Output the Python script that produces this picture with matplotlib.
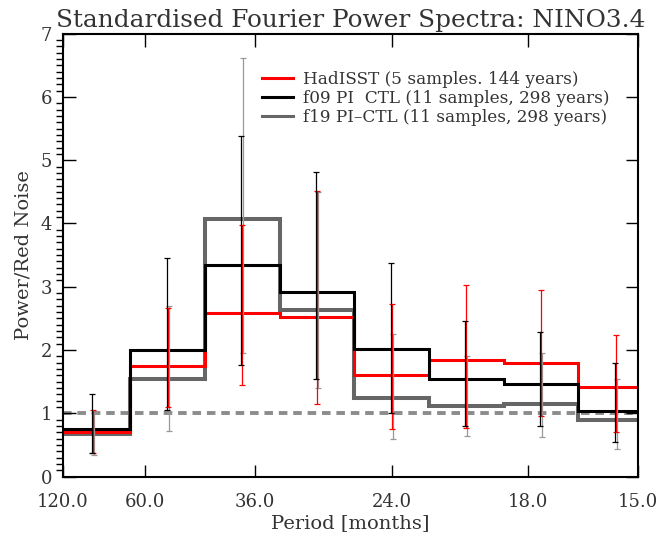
import matplotlib
matplotlib.use("Agg")
import matplotlib.pyplot as plt
from matplotlib.lines import Line2D
import numpy as np

# frequency bins are k / 132 cycles per month (11-year segments)
segment_months = 132
bin_k = [1, 2, 3, 4, 5, 6, 7, 8, 9]

tick_periods = [120, 60, 36, 24, 18, 15]
tick_labels = ["120.0", "60.0", "36.0", "24.0", "18.0", "15.0"]

hadisst = [0.70, 1.75, 2.58, 2.52, 1.60, 1.84, 1.80, 1.42]
hadisst_lo = [0.38, 1.10, 1.44, 1.15, 0.75, 0.77, 0.95, 0.71]
hadisst_hi = [1.06, 2.67, 3.97, 4.52, 2.73, 3.03, 2.95, 2.24]

f09 = [0.76, 2.00, 3.34, 2.92, 2.02, 1.54, 1.47, 1.03]
f09_lo = [0.38, 1.06, 1.77, 1.55, 1.00, 0.80, 0.80, 0.54]
f09_hi = [1.30, 3.46, 5.39, 4.81, 3.37, 2.46, 2.28, 1.79]

f19 = [0.68, 1.55, 4.07, 2.64, 1.24, 1.12, 1.15, 0.89]
f19_lo = [0.34, 0.72, 1.96, 1.40, 0.59, 0.64, 0.63, 0.43]
f19_hi = [1.00, 2.70, 6.62, 4.50, 2.25, 1.90, 1.95, 1.54]

labels = [
    "HadISST (5 samples. 144 years)",
    "f09 PI  CTL (11 samples, 298 years)",
    "f19 PI\u2013CTL (11 samples, 298 years)",
]

txt = "#333333"
plt.rcParams["font.family"] = "DejaVu Serif"
plt.rcParams["text.color"] = txt
plt.rcParams["xtick.labelcolor"] = txt
plt.rcParams["ytick.labelcolor"] = txt
plt.rcParams["axes.labelcolor"] = txt

edges = np.array(bin_k) / segment_months
centres = 0.5 * (edges[:-1] + edges[1:])

fig = plt.figure(figsize=(6.68, 5.34), dpi=100)
ax = fig.add_axes([0.0943, 0.1075, 0.8607, 0.8295])

series = [
    (f19, f19_lo, f19_hi, "#666666", "#999999", 2.9, 0.0001),
    (hadisst, hadisst_lo, hadisst_hi, "#ff0000", "#ff0000", 2.2, 0.0),
    (f09, f09_lo, f09_hi, "black", "black", 2.2, -0.0001),
]
for vals, lo, hi, col, ecol, lw, dx in series:
    ax.stairs(vals, edges, color=col, lw=lw, zorder=2)
for vals, lo, hi, col, ecol, lw, dx in series:
    v = np.array(vals)
    yerr = [v - np.array(lo), np.array(hi) - v]
    ax.errorbar(centres + dx, v, yerr=yerr, fmt="none", ecolor=ecol,
                elinewidth=0.9, capsize=2.5, capthick=0.9, zorder=3)

ax.axhline(1.0, color="#8c8c8c", lw=2.8, ls=(0, (2.2, 1.5)), zorder=1)

leg_handles = [Line2D([], [], color="#ff0000", lw=2.2),
               Line2D([], [], color="black", lw=2.2),
               Line2D([], [], color="#666666", lw=2.2)]
ax.legend(leg_handles, labels, loc="upper left", bbox_to_anchor=(0.347, 0.915),
          frameon=False, fontsize=12.2, handlelength=1.8, handletextpad=0.6,
          labelspacing=0.12, borderaxespad=0, borderpad=0)

ax.set_xlim(1 / 120, 1 / 15)
ax.set_ylim(0, 7)
ax.set_xticks([1 / p for p in tick_periods])
ax.set_xticklabels(tick_labels)
ax.set_yticks(range(0, 8))
ax.yaxis.set_minor_locator(matplotlib.ticker.MultipleLocator(0.1))
ax.tick_params(axis="both", direction="in", top=True, right=True,
               labelsize=13, width=1.0)
ax.tick_params(axis="x", length=9, pad=12)
ax.tick_params(axis="y", which="major", length=9, pad=8)
ax.tick_params(axis="y", which="minor", length=5, width=1.0)
for s in ax.spines.values():
    s.set_linewidth(1.5)

ax.set_xlabel("Period [months]", fontsize=14, labelpad=2)
ax.set_ylabel("Power/Red Noise", fontsize=14, labelpad=6)
ax.set_title("Standardised Fourier Power Spectra: NINO3.4", fontsize=17.8, pad=5)

fig.savefig("out.png", dpi=100)
